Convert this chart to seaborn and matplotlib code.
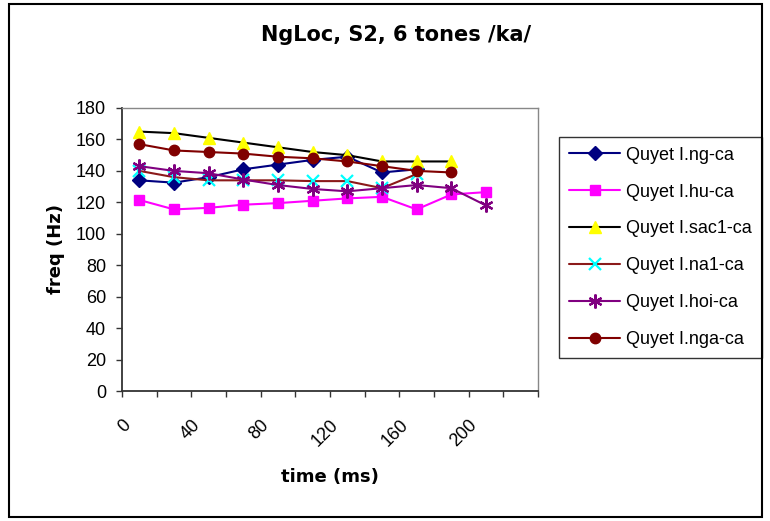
import seaborn as sns
import matplotlib.pyplot as plt
from matplotlib.patches import Rectangle

time_ms = [10, 30, 50, 70, 90, 110, 130, 150, 170, 190, 210]

ng_ca = [134, 132.5, 136, 141, 144, 147, 149, 139, 141]
hu_ca = [121.5, 115.5, 116.5, 118.5, 119.5, 121, 122.5, 123.5, 115.5, 125, 126.5]
sac1_ca = [165, 164, 161, 158, 155, 152, 150, 146, 146, 146]
na1_ca = [140, 136, 134, 134, 134, 133.5, 133.5, 129, 138]
hoi_ca = [143, 140, 138.5, 134.5, 131, 128.5, 127, 129, 131, 129, 118]
nga_ca = [157, 153, 152, 151, 149, 148, 146, 143, 140, 139]

series_names = ['Quyet I.ng-ca', 'Quyet I.hu-ca', 'Quyet I.sac1-ca',
                'Quyet I.na1-ca', 'Quyet I.hoi-ca', 'Quyet I.nga-ca']
x_ticks = [0, 20, 40, 60, 80, 100, 120, 140, 160, 180, 200, 220, 240]
x_tick_labels = ['0', '', '40', '', '80', '', '120', '', '160', '', '200', '', '']
y_ticks = [0, 20, 40, 60, 80, 100, 120, 140, 160, 180]

sns.set_style("ticks")
plt.rcParams['font.family'] = ['Liberation Sans', 'DejaVu Sans']
plt.rcParams['text.color'] = 'black'
plt.rcParams['axes.labelcolor'] = 'black'

fig = plt.figure(figsize=(7.7, 5.21), dpi=100)
ax = fig.add_axes([122 / 770, 1 - 391 / 521, 416 / 770, 283 / 521])

# (values, line colour, marker, face colour, edge colour, marker size, edge width)
styles = [
    (ng_ca, '#000080', 'D', '#000080', '#000080', 7, 1),
    (hu_ca, '#FF00FF', 's', '#FF00FF', '#FF00FF', 7.5, 1),
    (sac1_ca, '#000000', '^', '#FFFF00', '#FFFF00', 9, 1),
    (na1_ca, '#8B1A1A', 'x', '#00FFFF', '#00FFFF', 8, 1.6),
    (hoi_ca, '#800080', (6, 2, 0), '#800080', '#800080', 10, 1.6),
    (nga_ca, '#800000', 'o', '#800000', '#800000', 7.5, 1),
]

for name, (vals, lc, mk, fc, ec, ms, mew) in zip(series_names, styles):
    sns.lineplot(x=time_ms[:len(vals)], y=vals, ax=ax, color=lc, linewidth=1.5,
                 marker=mk, markerfacecolor=fc, markeredgecolor=ec,
                 markersize=ms, markeredgewidth=mew, label=name)

ax.set_xlim(0, 240)
ax.set_ylim(0, 180)
ax.set_xticks(x_ticks)
ax.set_xticklabels(x_tick_labels, rotation=45, ha='right', va='top',
                   rotation_mode='anchor', fontsize=13)
ax.set_yticks(y_ticks)
ax.tick_params(axis='y', labelsize=13, pad=7)
ax.tick_params(direction='out', length=4.5, width=1, colors='#333333', labelcolor='black')
ax.tick_params(axis='x', pad=14)

for side in ['left', 'bottom']:
    ax.spines[side].set_color('#333333')
    ax.spines[side].set_linewidth(1.3)
for side in ['top', 'right']:
    ax.spines[side].set_visible(True)
    ax.spines[side].set_color('#888888')
    ax.spines[side].set_linewidth(1)

ax.set_xlabel('time (ms)', fontsize=13, fontweight='bold', family='DejaVu Sans',
              va='center', color='black')
ax.xaxis.set_label_coords(0.5, (391 - 477) / 283)
ax.set_ylabel('freq (Hz)', fontsize=13, fontweight='bold', family='DejaVu Sans',
              va='center', color='black')
ax.yaxis.set_label_coords((56 - 122) / 416, 0.5)
fig.text(396 / 770, 1 - 35 / 521, 'NgLoc, S2, 6 tones /ka/', ha='center', va='center',
         fontsize=15, fontweight='bold', family='DejaVu Sans', color='black')

leg = ax.legend(loc='upper left', bbox_to_anchor=(559 / 770, 1 - 142 / 521, 203 / 770, 0.01),
                bbox_transform=fig.transFigure, mode='expand', frameon=True,
                fancybox=False, edgecolor='black', fontsize=13, labelspacing=1.1,
                handlelength=2.85, handletextpad=0.33, borderpad=0.55, borderaxespad=0)
leg.get_frame().set_linewidth(1)
for t in leg.get_texts():
    t.set_color('black')

fig.patches.append(Rectangle((9 / 770, 4 / 521), 753 / 770, 513 / 521, transform=fig.transFigure,
                             fill=False, edgecolor='black', linewidth=1.5))

fig.savefig('out.png', dpi=100)
